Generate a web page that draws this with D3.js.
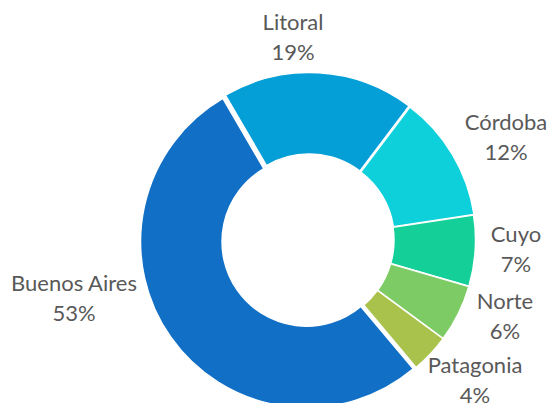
<!DOCTYPE html>
<html>
<head>
<meta charset="utf-8">
<script src="https://cdn.jsdelivr.net/npm/d3@7"></script>
<style>
  html, body { margin: 0; padding: 0; background: #ffffff; }
  svg { display: block; }
  text { font-family: Lato, "Open Sans", sans-serif; fill: #595959; }
</style>
</head>
<body>
<svg id="chart" width="548" height="403"></svg>
<script>
// Share by region (%)
const regions = ["Buenos Aires", "Litoral", "Córdoba", "Cuyo", "Norte", "Patagonia"];
const shares  = [52.7, 18.7, 12.3, 6.9, 5.6, 3.8];
const colors  = ["#1170C5", "#059FD7", "#0ED0DA", "#14CF98", "#7DCB64", "#A9C24B"];

// Layout
const W = 548, H = 403;
const cx = 309, cy = 240;
const outerR = 166, innerR = 84.5;
const startDeg = 140;                          // first slice begins at lower right
const explode = [3, 1.5, 1, 0.5, 0.5, 0.5];    // slight pull-out per slice
const labelAt = [                               // centre of each two-line label
  [74, 298], [293, 37], [506, 137], [516, 249], [505, 316], [475, 380]
];
const fontSize = 22, lineGap = 30;

const svg = d3.select("#chart");
const g = svg.append("g").attr("transform", `translate(${cx},${cy})`);

const total = d3.sum(shares);
const start = startDeg * Math.PI / 180;
const pie = d3.pie().sort(null).value(d => d)
  .startAngle(start).endAngle(start + 2 * Math.PI);
const arcs = pie(shares);

const arc = d3.arc().innerRadius(innerR).outerRadius(outerR);

g.selectAll("path.slice")
  .data(arcs)
  .join("path")
  .attr("class", "slice")
  .attr("d", arc)
  .attr("fill", (d, i) => colors[i])
  .attr("stroke", "#ffffff")
  .attr("stroke-width", 1.5)
  .attr("stroke-linejoin", "miter")
  .attr("transform", (d, i) => {
    const mid = (d.startAngle + d.endAngle) / 2;
    const dx = Math.sin(mid) * explode[i];
    const dy = -Math.cos(mid) * explode[i];
    return `translate(${dx},${dy})`;
  });

// Category name and rounded percentage
const labels = svg.selectAll("text.lbl")
  .data(arcs)
  .join("text")
  .attr("class", "lbl")
  .attr("text-anchor", "middle")
  .attr("font-size", fontSize);

labels.append("tspan")
  .attr("x", (d, i) => labelAt[i][0])
  .attr("y", (d, i) => labelAt[i][1] - lineGap / 2)
  .attr("dy", "0.35em")
  .text((d, i) => regions[i]);

labels.append("tspan")
  .attr("x", (d, i) => labelAt[i][0])
  .attr("y", (d, i) => labelAt[i][1] + lineGap / 2)
  .attr("dy", "0.35em")
  .text(d => Math.round(d.value / total * 100) + "%");
</script>
</body>
</html>
